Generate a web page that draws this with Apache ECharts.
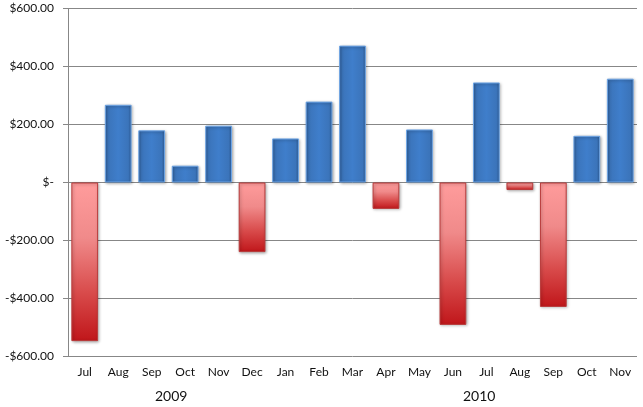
<!DOCTYPE html>
<html><head><meta charset="utf-8">
<script src="https://cdn.jsdelivr.net/npm/echarts@6/dist/echarts.min.js"></script>
<style>html,body{margin:0;padding:0;background:#fff}#c{width:643px;height:407px}</style>
</head><body><div id="c"></div>
<script>
var months = ['Jul','Aug','Sep','Oct','Nov','Dec','Jan','Feb','Mar','Apr','May','Jun','Jul','Aug','Sep','Oct','Nov'];
var values = [-547,268,180,58,196,-240,152,279,472,-91,183,-491,345,-26,-429,161,358];
var years = ['2009','2010'];
var yTicks = [-600,-400,-200,0,200,400,600];

var blue = {type:'linear',x:0,y:0,x2:1,y2:0,colorStops:[
  {offset:0,color:'#2f5f9c'},{offset:0.12,color:'#3b74ba'},{offset:0.5,color:'#3f7ecb'},{offset:0.88,color:'#3b74ba'},{offset:1,color:'#2c5a94'}]};
var red = {type:'linear',x:0,y:0,x2:0,y2:1,colorStops:[
  {offset:0,color:'#ff9c9c'},{offset:0.35,color:'#f08a8a'},{offset:0.7,color:'#d84a4a'},{offset:1,color:'#c0161a'}]};

var data = values.map(function(v){
  return {value:v,itemStyle: v>=0
    ? {color:blue,borderColor:'#6fa6e6',borderWidth:1,shadowColor:'rgba(0,0,0,0.35)',shadowBlur:3,shadowOffsetX:1,shadowOffsetY:1}
    : {color:red,borderColor:'#b93a3a',borderWidth:1,shadowColor:'rgba(0,0,0,0.3)',shadowBlur:3,shadowOffsetX:1,shadowOffsetY:1}};
});

var chart = echarts.init(document.getElementById('c'));
chart.setOption({
  animation:false,
  grid:{left:68,right:6,top:8.5,bottom:50.5,containLabel:false},
  xAxis:{type:'category',data:months,position:'bottom',
    axisLine:{show:false,onZero:false},axisTick:{show:false},
    axisLabel:{color:'#111',fontFamily:'Lato, "DejaVu Sans", sans-serif',fontSize:12,margin:10}},
  yAxis:{type:'value',min:-600,max:600,interval:200,
    axisLine:{show:true,lineStyle:{color:'#878787'}},
    axisTick:{show:true,length:5,lineStyle:{color:'#878787'}},
    splitLine:{lineStyle:{color:'#878787'}},
    axisLabel:{color:'#111',fontFamily:'Lato, "DejaVu Sans", sans-serif',fontSize:12,margin:14,
      formatter:function(v){ if(v===0) return '$-'; var s='$'+Math.abs(v).toFixed(2); return v<0?'-'+s:s; }}},
  series:[{type:'bar',data:data,barCategoryGap:'20%'}],
  graphic:[
    {type:'text',left:170-15,top:389,style:{text:years[0],fill:'#111',font:'14px Lato, "DejaVu Sans", sans-serif'}},
    {type:'text',left:478-15,top:389,style:{text:years[1],fill:'#111',font:'14px Lato, "DejaVu Sans", sans-serif'}}
  ]
});
</script></body></html>
